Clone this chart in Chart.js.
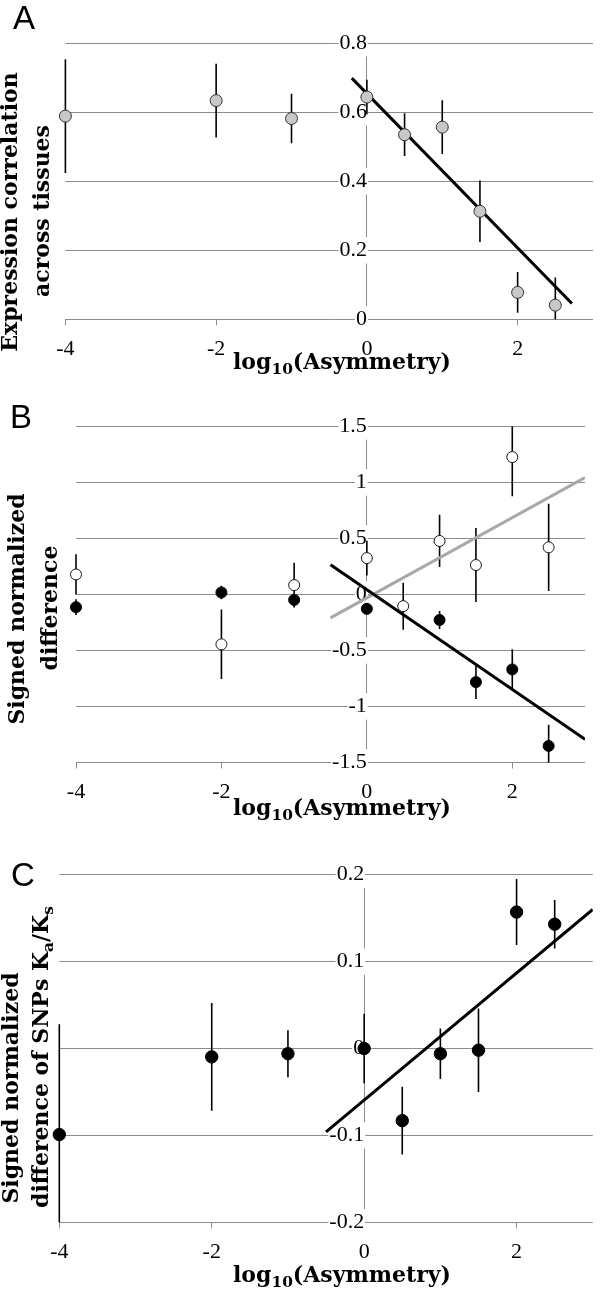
<!DOCTYPE html>
<html>
<head>
<meta charset="utf-8">
<script src="https://cdn.jsdelivr.net/npm/chart.js@4.4.0/dist/chart.umd.min.js"></script>
<style>
  body { margin: 0; background: #fff; }
  #page { position: relative; width: 600px; height: 1294px; overflow: hidden; }
  canvas { position: absolute; left: 0; }
  .letter { position: absolute; font-family: "Liberation Sans", Arial, sans-serif; font-size: 33px; line-height: 33px; color: #000; }
  .ytitle, .xtitle { position: absolute; font-family: "DejaVu Serif", serif; font-weight: bold; font-size: 22px; line-height: 22px; white-space: nowrap; color: #000; }
  .ytitle { transform: translate(-50%, -50%) rotate(-90deg); }
  sub { font-size: 70%; line-height: 0; vertical-align: -0.3em; }
</style>
</head>
<body>
<div id="page">
  <canvas id="chartA" width="600" height="400" style="top:0"></canvas>
  <canvas id="chartB" width="600" height="440" style="top:400px"></canvas>
  <canvas id="chartC" width="600" height="454" style="top:840px"></canvas>

  <div class="letter" style="left:13px;top:1px">A</div>
  <div class="letter" style="left:10px;top:400px">B</div>
  <div class="letter" style="left:11px;top:858px">C</div>

  <div class="ytitle" style="left:8.5px;top:212px">Expression correlation</div>
  <div class="ytitle" style="left:41px;top:211px">across tissues</div>
  <div class="ytitle" style="left:15.5px;top:609px">Signed normalized</div>
  <div class="ytitle" style="left:48.5px;top:608px">difference</div>
  <div class="ytitle" style="left:10px;top:1088px">Signed normalized</div>
  <div class="ytitle" style="left:40px;top:1057px">difference of SNPs K<sub>a</sub>/K<sub>s</sub></div>

  <div class="xtitle" style="left:233px;top:350px">log<sub>10</sub>(Asymmetry)</div>
  <div class="xtitle" style="left:233px;top:796px">log<sub>10</sub>(Asymmetry)</div>
  <div class="xtitle" style="left:233px;top:1263px">log<sub>10</sub>(Asymmetry)</div>
</div>

<script>
// log10(Asymmetry) bins shared by all panels
const asym = [-4, -2, -1, 0, 0.5, 1, 1.5, 2, 2.5];

// A: expression correlation across tissues
const corrA = [0.589, 0.634, 0.582, 0.644, 0.535, 0.557, 0.313, 0.078, 0.041];
const corrErrA = [0.165, 0.107, 0.072, 0.05, 0.062, 0.078, 0.089, 0.059, 0.08];
const fitXA = [-0.2, 2.72];
const fitYA = [0.699, 0.046];

// B: signed normalized difference (open and filled circles)
const openB = [0.179, -0.445, 0.084, 0.325, -0.104, 0.478, 0.263, 1.227, 0.421];
const openErrB = [0.18, 0.31, 0.2, 0.155, 0.21, 0.233, 0.33, 0.35, 0.39];
const filledB = [-0.113, 0.018, -0.048, -0.128, null, -0.227, -0.782, -0.669, -1.352];
const filledErrB = [0.07, 0.06, 0.06, 0.05, 0, 0.08, 0.15, 0.18, 0.19];
const fitXB = [-0.5, 3];
const fitBlackB = [0.266, -1.293];
const fitGreyB = [-0.209, 1.045];

// C: signed normalized difference of SNPs Ka/Ks
const kaksC = [-0.099, -0.0096, -0.006, 0, -0.083, -0.006, -0.002, 0.157, 0.143];
const kaksErrC = [0.127, 0.062, 0.027, 0.04, 0.039, 0.029, 0.048, 0.038, 0.028];
const fitXC = [-0.5, 3];
const fitYC = [-0.096, 0.16];

// axis ranges / tick steps
const xRange = [-4, 3], xStep = 2;
const yRangeA = [0, 0.8], yStepA = 0.2;
const yRangeB = [-1.5, 1.5], yStepB = 0.5;
const yRangeC = [-0.2, 0.2], yStepC = 0.1;

const GRID = "#8c8c8c";
const tickFont = { family: "'Liberation Serif', 'Times New Roman', serif", size: 22 };

const pts = (xs, ys) => xs.map((x, i) => ({ x, y: ys[i] }));
const fmt = (v) => String(+Number(v).toFixed(2));

// vertical error bars under the markers, clipped to the plot height
const errorBars = {
  id: "errorBars",
  beforeDatasetsDraw(chart) {
    const { ctx, chartArea, scales: { x, y } } = chart;
    ctx.save();
    ctx.beginPath();
    ctx.rect(0, chartArea.top, chart.width, chartArea.bottom - chartArea.top);
    ctx.clip();
    ctx.strokeStyle = "#000";
    ctx.lineWidth = 1.6;
    chart.data.datasets.forEach((ds) => {
      if (!ds.errors) return;
      ds.data.forEach((p, i) => {
        if (p.y == null) return;
        const e = ds.errors[i];
        const px = x.getPixelForValue(p.x);
        ctx.beginPath();
        ctx.moveTo(px, y.getPixelForValue(p.y + e));
        ctx.lineTo(px, y.getPixelForValue(p.y - e));
        ctx.stroke();
      });
    });
    ctx.restore();
  },
};

function pointSet(ys, errs, fill, border, radius) {
  return {
    type: "scatter",
    data: pts(asym, ys),
    errors: errs,
    pointRadius: radius,
    pointHoverRadius: radius,
    pointBackgroundColor: fill,
    pointBorderColor: border,
    pointBorderWidth: 1,
    showLine: false,
    clip: false,
  };
}

function fitLine(xs, ys, color) {
  return {
    type: "line",
    data: pts(xs, ys),
    borderColor: color,
    borderWidth: 3,
    pointRadius: 0,
    fill: false,
  };
}

function makeChart(id, datasets, yRange, yStep, pad) {
  return new Chart(document.getElementById(id), {
    type: "scatter",
    data: { datasets },
    plugins: [errorBars],
    options: {
      responsive: false,
      animation: false,
      events: [],
      layout: { padding: pad },
      plugins: { legend: { display: false }, tooltip: { enabled: false } },
      scales: {
        x: {
          type: "linear",
          min: xRange[0],
          max: xRange[1],
          afterFit: (s) => { s.height = 50; },
          grid: { drawOnChartArea: false, drawTicks: true, tickLength: 6, color: GRID },
          border: { display: false },
          ticks: { stepSize: xStep, includeBounds: false, font: tickFont, color: "#000", padding: 11, maxRotation: 0, callback: fmt },
        },
        y: {
          type: "linear",
          position: { x: 0 },
          min: yRange[0],
          max: yRange[1],
          grid: { color: GRID, lineWidth: 1, drawTicks: true, tickLength: 21, tickColor: "rgba(0,0,0,0)" },
          border: { display: true, color: GRID, width: 1 },
          ticks: {
            stepSize: yStep, font: tickFont, color: "#000", callback: fmt,
            showLabelBackdrop: true, backdropColor: "#fff", backdropPadding: { x: 1, y: 0 },
          },
        },
      },
    },
  });
}

makeChart("chartA", [
  pointSet(corrA, corrErrA, "#c8c8c8", "#333", 6),
  fitLine(fitXA, fitYA, "#000"),
], yRangeA, yStepA, { left: 65.4, right: 5, top: 43.3, bottom: 30.7 });

makeChart("chartB", [
  pointSet(openB, openErrB, "#fff", "#1a1a1a", 5.5),
  pointSet(filledB, filledErrB, "#000", "#000", 5.5),
  fitLine(fitXB, fitBlackB, "#000"),
  fitLine(fitXB, fitGreyB, "#a8a8a8"),
], yRangeB, yStepB, { left: 76, right: 15, top: 26.5, bottom: 27.5 });

makeChart("chartC", [
  pointSet(kaksC, kaksErrC, "#000", "#000", 6.2),
  fitLine(fitXC, fitYC, "#000"),
], yRangeC, yStepC, { left: 59.3, right: 1.7, top: 34.7, bottom: 21.7 });
</script>
</body>
</html>
